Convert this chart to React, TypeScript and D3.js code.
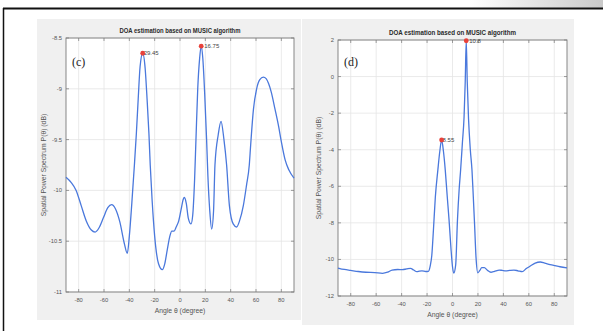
import React, { FC, useMemo } from "react";
import * as d3 from "d3";

// x axis (angle) ticks shared by both panels
const ANGLE_TICKS = [-80, -60, -40, -20, 0, 20, 40, 60, 80];
const C_Y_TICKS = [-8.5, -9, -9.5, -10, -10.5, -11];
const D_Y_TICKS = [2, 0, -2, -4, -6, -8, -10, -12];

const TITLE = "DOA estimation based on MUSIC algorithm";
const Y_LABEL = "Spatial Power Spectrum P(θ) (dB)";
const X_LABEL = "Angle θ (degree)";

// panel (c): [angle, dB]
const C_SPECTRUM: [number, number][] = [
    [-90, -9.87], [-86, -9.92], [-82, -10.0], [-78, -10.15], [-74, -10.3],
    [-70, -10.39], [-67, -10.41], [-64, -10.37], [-60.5, -10.27], [-57, -10.17],
    [-54, -10.14], [-51, -10.18], [-47.5, -10.31], [-44, -10.52], [-41.6, -10.62],
    [-40, -10.45], [-38, -10.12], [-36, -9.75], [-34.5, -9.45], [-33, -9.1],
    [-31.5, -8.78], [-29.45, -8.65], [-27.5, -8.8], [-26, -9.1], [-24.5, -9.45],
    [-23.5, -9.75], [-22, -10.1], [-20, -10.45], [-17, -10.72], [-14, -10.78],
    [-12, -10.72], [-10, -10.58], [-8, -10.45], [-6.5, -10.4], [-4.7, -10.4],
    [-3, -10.36], [-1, -10.3], [1, -10.18], [2.5, -10.09], [3.5, -10.07],
    [5, -10.13], [6.5, -10.27], [8.7, -10.33], [10, -10.25], [11.5, -9.9],
    [12.6, -9.5], [14, -9.0], [15.5, -8.7], [16.75, -8.58], [18, -8.7],
    [19.5, -9.05], [21, -9.5], [22, -9.85], [23.5, -10.2], [25, -10.38],
    [26.5, -10.2], [27.6, -9.75], [30.2, -9.45], [32.4, -9.32], [34.7, -9.5],
    [36.8, -9.75], [39, -10.15], [42, -10.33], [44.7, -10.36], [47, -10.3],
    [50, -10.15], [52.5, -9.95], [54.7, -9.75], [55.8, -9.55], [58, -9.2],
    [60.5, -9.0], [63, -8.91], [65.8, -8.885], [68, -8.9], [70, -8.95],
    [72, -9.03], [75, -9.2], [78, -9.38], [80, -9.52], [83, -9.7],
    [86, -9.8], [90, -9.88],
];
const C_PEAKS: [number, number][] = [[-29.45, -8.65], [16.75, -8.58]];

// panel (d)
const D_SPECTRUM: [number, number][] = [
    [-90, -10.47], [-85, -10.55], [-80, -10.6], [-74, -10.66], [-68, -10.7],
    [-61, -10.72], [-55, -10.76], [-51, -10.7], [-47.5, -10.58], [-43, -10.55],
    [-39.5, -10.56], [-36, -10.52], [-33, -10.49], [-30.5, -10.58], [-28, -10.67],
    [-26, -10.64], [-24, -10.63], [-21, -10.66], [-19, -10.65], [-17.5, -10.35],
    [-16.3, -9.8], [-15, -8.4], [-13.5, -6.6], [-11.5, -5.1], [-10, -4.1],
    [-8.55, -3.47], [-7.1, -4.1], [-5.7, -5.1], [-4.2, -6.5], [-2.7, -7.85],
    [-1.2, -9.4], [0, -10.4], [1, -10.75], [2.5, -10.3], [3.9, -7.85],
    [5.2, -6.2], [6.4, -5.1], [7.8, -3.6], [9.1, -2.2], [10, -0.3],
    [10.8, 1.96], [11.6, -0.3], [12.6, -2.3], [14, -4], [15.3, -5.1],
    [16.3, -6.5], [17.3, -8.0], [18.5, -9.9], [19.9, -10.73], [21.5, -10.6],
    [23, -10.45], [25, -10.45], [27.5, -10.6], [30.2, -10.7], [33, -10.65],
    [36.7, -10.58], [39, -10.6], [41.9, -10.63], [45, -10.6], [48.3, -10.58],
    [51.5, -10.62], [54.8, -10.67], [58, -10.5], [61.2, -10.36], [65, -10.2],
    [69, -10.14], [72.5, -10.2], [76.7, -10.28], [80.5, -10.34], [84.5, -10.4],
    [90, -10.46],
];
const D_PEAKS: [number, number][] = [[-8.55, -3.47], [10.8, 1.96]];

const FONT = "'Liberation Sans', Arial, sans-serif";

const Panel: FC<any> = (props: any) => {
    const { bg, plot, yDomain, yTicks, data, peaks, tag, titleY, titleLen, yLabelX, xLabelY } = props;

    const x = useMemo(() => d3.scaleLinear([-90, 90], [plot.l, plot.r]), [plot]);
    const y = useMemo(() => d3.scaleLinear(yDomain, [plot.b, plot.t]), [plot, yDomain]);

    const line = d3
        .line<[number, number]>()
        .x((d) => x(d[0]))
        .y((d) => y(d[1]))
        .curve(d3.curveMonotoneX);

    const cx = (plot.l + plot.r) / 2;
    const cy = (plot.t + plot.b) / 2;

    return (
        <g>
            <rect x={bg.x} y={bg.y} width={bg.w} height={bg.h} fill="#f0f0f0" />
            <rect x={plot.l} y={plot.t} width={plot.r - plot.l} height={plot.b - plot.t} fill="#fff" />
            {/* grid */}
            <g stroke="#e4e4e4" strokeWidth={0.8}>
                {ANGLE_TICKS.map((t) => (
                    <line key={"gx" + t} x1={x(t)} x2={x(t)} y1={plot.t} y2={plot.b} />
                ))}
                {yTicks.map((t: number) => (
                    <line key={"gy" + t} x1={plot.l} x2={plot.r} y1={y(t)} y2={y(t)} />
                ))}
            </g>
            {/* tick marks, inward on all sides */}
            <g stroke="#777" strokeWidth={0.7}>
                {ANGLE_TICKS.map((t) => (
                    <g key={"tx" + t}>
                        <line x1={x(t)} x2={x(t)} y1={plot.b} y2={plot.b - 3} />
                        <line x1={x(t)} x2={x(t)} y1={plot.t} y2={plot.t + 3} />
                    </g>
                ))}
                {yTicks.map((t: number) => (
                    <g key={"ty" + t}>
                        <line x1={plot.l} x2={plot.l + 3} y1={y(t)} y2={y(t)} />
                        <line x1={plot.r} x2={plot.r - 3} y1={y(t)} y2={y(t)} />
                    </g>
                ))}
            </g>
            <rect
                x={plot.l}
                y={plot.t}
                width={plot.r - plot.l}
                height={plot.b - plot.t}
                fill="none"
                stroke="#7a7a7a"
                strokeWidth={0.9}
            />
            <g fontFamily={FONT} fontSize={5.8} fill="#555">
                {ANGLE_TICKS.map((t) => (
                    <text key={"lx" + t} x={x(t)} y={plot.b + 10} textAnchor="middle">
                        {t}
                    </text>
                ))}
                {yTicks.map((t: number) => (
                    <text key={"ly" + t} x={plot.l - 4} y={y(t) + 2} textAnchor="end">
                        {t}
                    </text>
                ))}
            </g>
            <path d={line(data) || ""} fill="none" stroke="#4a78dc" strokeWidth={1.3} />
            {peaks.map((p: [number, number]) => (
                <g key={"pk" + p[0]}>
                    <text
                        x={x(p[0]) + (p[0] < 0 ? -1 : 3)}
                        y={y(p[1]) + 2}
                        fontFamily={FONT}
                        fontSize={6}
                        fill="#444"
                    >
                        {p[0]}
                    </text>
                    <circle cx={x(p[0])} cy={y(p[1])} r={2.4} fill="#e8413a" />
                </g>
            ))}
            <text
                x={cx}
                y={titleY}
                textAnchor="middle"
                fontFamily={FONT}
                fontWeight="bold"
                fontSize={7.5}
                fill="#2a2a2a"
                textLength={titleLen}
                lengthAdjust="spacingAndGlyphs"
            >
                {TITLE}
            </text>
            <text x={plot.l + 6} y={66} fontFamily="'Liberation Serif', 'Times New Roman', serif" fontSize={12} fill="#222">
                {tag}
            </text>
            <text
                transform={`translate(${yLabelX},${cy}) rotate(-90)`}
                textAnchor="middle"
                fontFamily={FONT}
                fontSize={6.8}
                fill="#555"
            >
                {Y_LABEL}
            </text>
            <text x={cx} y={xLabelY} textAnchor="middle" fontFamily={FONT} fontSize={6.8} fill="#555">
                {X_LABEL}
            </text>
        </g>
    );
};

export default function App() {
    return (
        <svg
            width={603}
            height={331}
            style={{ position: "absolute", top: 0, left: 0, background: "#fff" }}
        >
            <defs>
                <linearGradient id="shade" x1="0" x2="1" y1="0" y2="0">
                    <stop offset="0" stopColor="#fff" />
                    <stop offset="1" stopColor="#c9c9c9" />
                </linearGradient>
            </defs>
            <rect x={470} y={0} width={133} height={8} fill="url(#shade)" />
            <line x1={3} x2={603} y1={8.5} y2={8.5} stroke="#111" strokeWidth={1.8} />
            <line x1={3.5} x2={3.5} y1={8} y2={331} stroke="#111" strokeWidth={1.5} />
            <Panel
                bg={{ x: 37, y: 19, w: 264, h: 301 }}
                plot={{ l: 66, t: 38, r: 294, b: 292 }}
                yDomain={[-11, -8.5]}
                yTicks={C_Y_TICKS}
                data={C_SPECTRUM}
                peaks={C_PEAKS}
                tag="(c)"
                titleY={33}
                titleLen={121}
                yLabelX={46}
                xLabelY={313}
            />
            <Panel
                bg={{ x: 302, y: 19, w: 272, h: 306 }}
                plot={{ l: 338, t: 40, r: 567, b: 296 }}
                yDomain={[-12, 2]}
                yTicks={D_Y_TICKS}
                data={D_SPECTRUM}
                peaks={D_PEAKS}
                tag="(d)"
                titleY={35}
                titleLen={127}
                yLabelX={321}
                xLabelY={317}
            />
        </svg>
    );
}
